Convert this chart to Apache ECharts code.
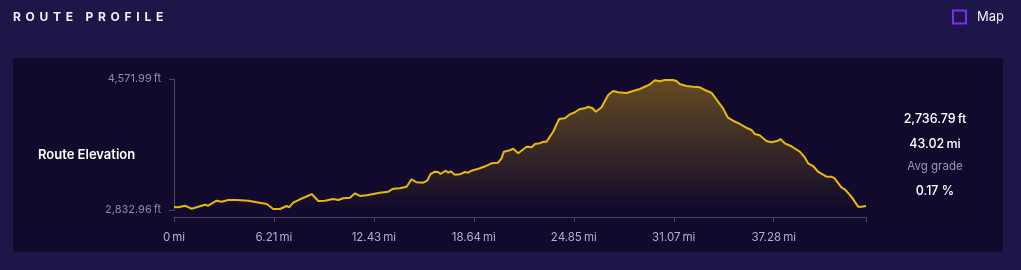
<!DOCTYPE html>
<html>
<head>
<meta charset="utf-8">
<script src="https://cdn.jsdelivr.net/npm/echarts@6/dist/echarts.min.js"></script>
<style>
html,body{margin:0;padding:0;background:#1d1648;}
#c{width:1021px;height:270px;}
</style>
</head>
<body>
<div id="c"></div>
<script>
// distance (mi) along route
const distances = [0.00,0.27,0.68,1.10,1.51,1.93,2.13,2.65,2.96,3.37,3.90,4.62,5.14,5.76,6.17,6.59,7.00,7.16,7.41,7.83,8.14,8.56,8.97,9.38,9.90,10.21,10.52,10.94,11.25,11.56,11.97,12.38,12.80,13.32,13.63,14.04,14.46,14.77,15.08,15.49,15.74,15.95,16.22,16.42,16.57,16.90,17.05,17.20,17.46,17.77,18.08,18.29,18.50,18.81,19.02,19.43,19.74,20.15,20.36,20.51,20.88,21.09,21.40,21.92,22.23,22.44,22.75,22.95,23.16,23.57,23.94,24.30,24.61,24.92,25.19,25.54,25.75,26.02,26.22,26.58,26.99,27.30,27.61,28.13,28.54,28.96,29.37,29.68,29.89,30.20,30.51,31.02,31.24,31.44,31.86,32.27,32.69,33.00,33.41,33.72,34.13,34.44,34.76,35.17,35.62,35.90,36.10,36.41,36.83,37.14,37.55,37.70,37.97,38.38,38.90,39.21,39.42,39.73,40.04,40.56,40.87,41.07,41.49,41.70,42.11,42.53,42.74,43.02];
// elevation (ft)
const elevations = [2873,2869,2890,2850,2877,2903,2890,2956,2943,2966,2966,2956,2935,2913,2846,2846,2886,2869,2930,2975,3002,3045,2952,2956,2979,2966,2988,2996,3055,3019,3028,3045,3063,3076,3116,3121,3142,3241,3201,3195,3222,3311,3341,3337,3311,3355,3328,3347,3302,3307,3337,3328,3355,3373,3387,3421,3453,3461,3519,3607,3626,3647,3586,3673,3665,3709,3718,3740,3740,3872,4041,4050,4103,4130,4170,4183,4204,4183,4138,4196,4360,4413,4395,4386,4413,4439,4479,4515,4555,4541,4559,4559,4545,4505,4479,4470,4462,4426,4390,4302,4183,4058,4018,3975,3921,3895,3842,3825,3749,3732,3753,3775,3718,3679,3607,3533,3453,3417,3341,3275,3275,3254,3134,3108,3010,2877,2877,2886];
const xTicks = [0, 6.2137, 12.4274, 18.6411, 24.8548, 31.0685, 37.2822, 43.02];
const xTickLabels = [0, 6.2137, 12.4274, 18.6411, 24.8548, 31.0685, 37.2822];
const yTicks = [2832.96, 4571.99];
const stats = {gain: '2,736.79\u2009ft', dist: '43.02\u2009mi', gradeLabel: 'Avg grade', grade: '0.17 %'};
const title = 'ROUTE PROFILE';
const seriesName = 'Route Elevation';
const legendName = 'Map';

const FONT = 'Inter, Roboto, sans-serif';
const fmtNum = v => v.toLocaleString('en-US', {minimumFractionDigits: 2, maximumFractionDigits: 2});

const chart = echarts.init(document.getElementById('c'), null, {renderer: 'canvas'});
chart.setOption({
  backgroundColor: '#1d1648',
  animation: false,
  graphic: [
    {type: 'rect', z: -10, silent: true, shape: {x: 13, y: 58, width: 990, height: 194}, style: {fill: '#110a2c'}},
    {type: 'text', x: 13, y: 17, style: {text: title.split('').join(' \u2009'), fill: '#f2f0f8', font: 'bold 12px ' + FONT, verticalAlign: 'middle'}},
    {type: 'rect', shape: {x: 953, y: 10.5, width: 13, height: 13}, style: {fill: 'transparent', stroke: '#7a2ff0', lineWidth: 2}},
    {type: 'text', x: 977, y: 17, style: {text: legendName, fill: '#f2f0f8', font: '13px ' + FONT, verticalAlign: 'middle'}},
    {type: 'text', x: 38, y: 155, style: {text: seriesName, fill: '#ffffff', font: '600 13px ' + FONT, verticalAlign: 'middle'}},
    {type: 'text', x: 935, y: 119, style: {text: stats.gain, fill: '#ffffff', font: '500 12.5px ' + FONT, align: 'center', verticalAlign: 'middle'}},
    {type: 'text', x: 935, y: 144, style: {text: stats.dist, fill: '#ffffff', font: '500 12.5px ' + FONT, align: 'center', verticalAlign: 'middle'}},
    {type: 'text', x: 935, y: 167, style: {text: stats.gradeLabel, fill: '#9b96b3', font: '11.5px ' + FONT, align: 'center', verticalAlign: 'middle'}},
    {type: 'text', x: 935, y: 191, style: {text: stats.grade, fill: '#ffffff', font: '500 12.5px ' + FONT, align: 'center', verticalAlign: 'middle'}}
  ],
  grid: {left: 174, right: 155, top: 79, bottom: 60, containLabel: false},
  xAxis: {
    type: 'value', min: 0, max: 43.02, offset: 7,
    axisLine: {show: true, lineStyle: {color: '#4a4468', width: 1}},
    axisTick: {show: true, length: 5, customValues: xTicks, lineStyle: {color: '#4a4468'}},
    axisLabel: {customValues: xTickLabels, color: '#b4b0c8', fontFamily: FONT, fontSize: 11.5, margin: 15,
      formatter: v => (v === 0 ? '0' : v.toFixed(2)) + '\u2009mi'},
    splitLine: {show: false}
  },
  yAxis: {
    type: 'value', min: 2832.96, max: 4571.99,
    axisLine: {show: true, lineStyle: {color: '#4a4468', width: 1}},
    axisTick: {show: true, length: 5, customValues: yTicks, lineStyle: {color: '#4a4468'}},
    axisLabel: {customValues: yTicks, color: '#8f8aa8', fontFamily: FONT, fontSize: 11, margin: 13,
      formatter: v => fmtNum(v) + '\u2009ft'},
    splitLine: {show: false}
  },
  series: [{
    name: seriesName, type: 'line', showSymbol: false, smooth: false,
    data: distances.map((d, i) => [d, elevations[i]]),
    lineStyle: {color: '#e8b90c', width: 2},
    areaStyle: {
      origin: 'start',
      color: new echarts.graphic.LinearGradient(0, 0, 0, 1, [
        {offset: 0, color: 'rgba(215,165,20,0.6)'},
        {offset: 1, color: 'rgba(215,165,20,0)'}
      ])
    }
  }]
});
</script>
</body>
</html>
